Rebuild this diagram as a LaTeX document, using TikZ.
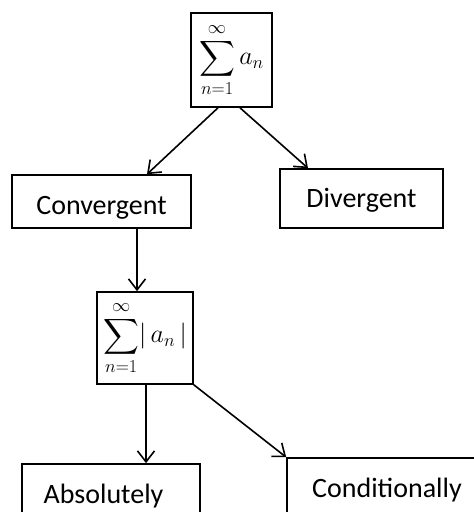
\documentclass[tikz,border=0pt]{standalone}
\usepackage{fix-cm}
\usepackage{exscale}
\usepackage[no-math]{fontspec}
\setmainfont{Carlito}
\usetikzlibrary{arrows.meta,calc}
\tikzset{
  box/.style={draw=black, line width=1.6pt, inner sep=0pt, align=center, font=\fontsize{28}{34}\selectfont},
  lbl/.style={box, text height=20pt, text depth=0pt},
  mbox/.style={box, font=\fontsize{26}{32}\selectfont},
  arr/.style={line width=1.6pt, -{Straight Barb[length=11pt,width=17pt,line width=1.6pt]}}
}
\begin{document}
\begin{tikzpicture}[x=1pt,y=-1pt]
\useasboundingbox (0,0) rectangle (474,512);
\clip (0,0) rectangle (474,512);
\node[mbox, minimum width=81pt, minimum height=94pt] (s1) at (231.5,60) {$\displaystyle\sum_{n=1}^{\infty} a_n$};
\node[lbl, text height=25pt, minimum width=179pt, minimum height=53pt] (conv) at (101.5,201.5) {Convergent};
\node[lbl, text height=17pt, minimum width=163pt, minimum height=59pt] (div) at (361.5,198.5) {Divergent};
\node[mbox, minimum width=96pt, minimum height=92pt] (s2) at (145,338) {$\displaystyle\sum_{n=1}^{\infty}\! |\,a_n\,|$};
\node[lbl, minimum width=178pt, minimum height=58pt] (abs) at (111,493) {\hspace*{-15pt}Absolutely};
\node[lbl, minimum width=200pt, minimum height=58pt] (cond) at (387,487) {Conditionally};
\draw[arr] ([xshift=-13.5pt]s1.south) -- ([xshift=45.5pt]conv.north);
\draw[arr] ([xshift=8.5pt]s1.south) -- ([xshift=-53.5pt]div.north);
\draw[arr] ([xshift=35.5pt]conv.south) -- ([xshift=-8pt]s2.north);
\draw[arr] ([xshift=1pt]s2.south) -- ([xshift=35pt]abs.north);
\draw[arr] (s2.south east) -- (cond.north west);
\end{tikzpicture}
\end{document}
